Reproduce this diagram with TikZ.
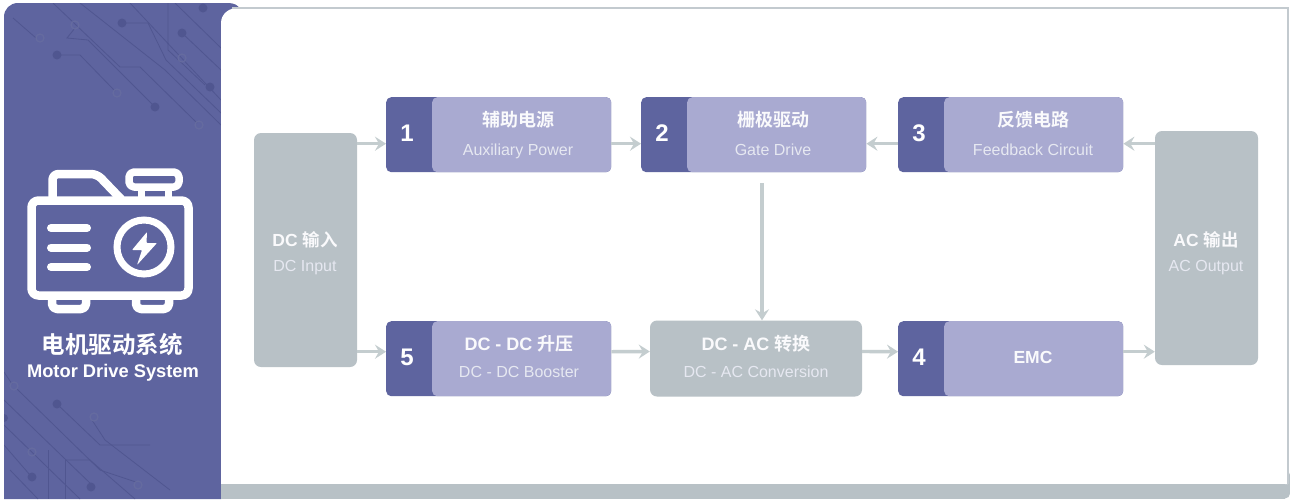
\documentclass[tikz,border=0pt]{standalone}
\usepackage{fontspec}
\setmainfont{Liberation Sans}
\newfontfamily\cjk{Noto Sans CJK SC}[BoldFont={Noto Sans CJK SC Bold}]
\usetikzlibrary{arrows.meta,calc}
\definecolor{deep}{HTML}{5E649F}
\definecolor{soft}{HTML}{A9AAD1}
\definecolor{slate}{HTML}{B8C1C6}
\definecolor{wire}{HTML}{C4CDCF}
\definecolor{trace}{HTML}{505690}
\definecolor{entext}{HTML}{E6E8F1}
\newcommand{\zh}[2]{{\fontsize{#1}{#1}\selectfont\bfseries\cjk #2}}
\newcommand{\lat}[1]{{\fontsize{16}{16}\selectfont #1}}
\newcommand{\stepblock}[8]{% name, x, y, number, text-centre offset, cn, en, en baseline offset
  \node[darkpart,anchor=north west] (#1) at (#2,#3) {};
  \node[softpart,anchor=north west] (#1s) at ($(#2,#3)+(46,0)$) {};
  \node[numtext] (#1n) at ($(#2,#3)+(21,36)$) {#4};
  \node[cntext] (#1c) at ($(#2,#3)+(#5,23)$) {\zh{18}{#6}};
  \node[entext,anchor=base] (#1e) at ($(#2,#3)+(#5,#8)$) {\lat{#7}};
}
\tikzset{
  x=1pt,y=-1pt,
  darkpart/.style={fill=deep,rounded corners=5pt,inner sep=0pt,minimum width=225pt,minimum height=75pt},
  softpart/.style={fill=soft,rounded corners=5pt,inner sep=0pt,minimum width=179pt,minimum height=75pt},
  greybox/.style={fill=slate,rounded corners=7pt,inner sep=0pt},
  numtext/.style={inner sep=0pt,text=white,font=\fontsize{24}{24}\selectfont\bfseries},
  cntext/.style={inner sep=0pt,text=white!94!soft},
  entext/.style={inner sep=0pt,text=entext},
  flow/.style={draw=wire,line width=3.4pt,-{Stealth[length=11pt,width=14pt,inset=4pt]}},
  icon/.style={draw=white,line width=8.5pt,line join=round,line cap=round},
  pcb/.style={draw=trace,line width=0.8pt},
  pcbdot/.style={fill=trace,draw=none},
  pcbring/.style={draw=trace!70!deep!90!white,line width=1.2pt},
}
\begin{document}
\begin{tikzpicture}
\useasboundingbox (0,0) rectangle (1290,499);
% left panel
\fill[deep] (4,499) -- (4,17) .. controls (4,9) and (10,3) .. (18,3) -- (228,3) .. controls (234,3) and (238,5) .. (240,9) -- (240,30) -- (221,30) -- (221,499) -- cycle;
% circuit traces
\begin{scope}
\clip (4,499) -- (4,17) .. controls (4,9) and (10,3) .. (18,3) -- (240,3) -- (240,12) -- (221,12) -- (221,499) -- cycle;
\draw[pcb] (13,18) -- (36,38);
\draw[pcb] (57,55) -- (80,55) -- (115,91);
\draw[pcb] (75,28) -- (67,38) -- (88,40) -- (155,107);
\draw[pcb] (53,3) -- (120,67) -- (140,67) -- (197,123);
\draw[pcb] (80,3) -- (165,70) -- (221,125);
\draw[pcb] (122,23) -- (148,23) -- (166,60) -- (221,113);
\draw[pcb] (130,3) -- (221,100);
\draw[pcb] (168,3) -- (168,50) -- (205,85);
\draw[pcb] (182,33) -- (221,70);
\draw[pcb] (175,3) -- (221,48);
\draw[pcb] (4,372) -- (12,384);
\draw[pcb] (17,389) -- (100,470) -- (136,482);
\draw[pcb] (4,400) -- (92,485);
\draw[pcb] (4,425) -- (80,499);
\draw[pcb] (57,404) -- (100,445) -- (150,445);
\draw[pcb] (92,420) -- (105,440) -- (170,490);
\draw[pcb] (4,445) -- (30,475);
\draw[pcb] (48,450) -- (48,499);
\draw[pcb] (65,460) -- (65,499);
\draw[pcb] (65,460) -- (90,460) -- (135,499);
\draw[pcb] (10,470) -- (38,499);
\foreach \p/\r in {{(57,55)}/4.5,{(122,23)}/4.5,{(155,107)}/4.5,{(182,33)}/4.5,{(210,87)}/4.5,{(203,8)}/4.5,{(57,404)}/4.5,{(32,477)}/4.5,{(91,487)}/4.5,{(4,418)}/4}
  \fill[pcbdot] \p circle[radius=\r];
\foreach \p in {{(40,38)},{(75,25)},{(117,93)},{(182,58)},{(199,125)},{(14,386)},{(94,417)},{(32,452)},{(138,485)}}
  \draw[pcbring] \p circle[radius=4];
\end{scope}
% white panel and base strip
\fill[slate,rounded corners=5pt] (1200,470) rectangle (1290,498.5);
\fill[white] (221,484) -- (221,23) .. controls (221,14) and (229,8) .. (237,8) -- (1288,8) -- (1288,484) -- cycle;
\draw[slate!85!white,line width=2.4pt] (232,8) -- (1288,8) -- (1288,484);
\fill[slate] (221,484) rectangle (1285,498.5);
% icon
\draw[icon,rounded corners=7pt] (31.5,200.5) rectangle (188.5,295.5);
\draw[icon,rounded corners=6pt] (52.5,198) -- (52.5,174) -- (97,174) -- (121,199);
\draw[icon,line width=7.5pt,rounded corners=5pt] (129,172) rectangle (179,187);
\draw[icon,line width=7pt,line cap=butt] (141,188) -- (141,198);
\draw[icon,line width=7pt,line cap=butt] (168,188) -- (168,198);
\draw[icon,line cap=butt,rounded corners=5pt] (52,296) -- (52,309) -- (86,309) -- (86,296);
\draw[icon,line cap=butt,rounded corners=5pt] (136,296) -- (136,309) -- (169,309) -- (169,296);
\draw[icon,line width=8pt] (51,228) -- (87,228);
\draw[icon,line width=8pt] (51,247.5) -- (87,247.5);
\draw[icon,line width=8pt] (51,267) -- (87,267);
\draw[draw=white,line width=7pt] (144,247) circle[radius=27];
\fill[white,rounded corners=0.8pt] (147,232) -- (132,250) -- (142,250) -- (137,265) -- (157,243) -- (146.5,243) -- cycle;
\node[inner sep=0pt,text=white] (titlecn) at (112,345) {\zh{23.5}{电机驱动系统}};
\node[inner sep=0pt,text=white,font=\fontsize{18.3}{18}\selectfont\bfseries] (titleen) at (113,372.5) {Motor Drive System};
% grey blocks
\node[greybox,minimum width=103pt,minimum height=234pt] (dcin) at (305.5,250) {};
\node[greybox,minimum width=103pt,minimum height=234pt] (acout) at (1206.5,248) {};
\node[cntext] (dcinc) at (305,240) {{\fontsize{17.5}{17}\selectfont\bfseries DC \zh{17.5}{输入}}};
\node[entext,anchor=base] (dcine) at (305,271) {\lat{DC Input}};
\node[cntext] (acoutc) at (1206,240) {{\fontsize{17.5}{17}\selectfont\bfseries AC \zh{17.5}{输出}}};
\node[entext,anchor=base] (acoute) at (1206,271) {\lat{AC Output}};
\node[greybox,minimum width=212pt,minimum height=76pt] (conv) at (756,358.5) {};
\node[cntext] (convc) at (756,344) {{\fontsize{18}{18}\selectfont\bfseries DC - AC \zh{18}{转换}}};
\node[entext,anchor=base] (conve) at (756,377) {\lat{DC - AC Conversion}};
% numbered blocks
\stepblock{bA}{386}{97}{1}{132}{辅助电源}{Auxiliary Power}{58}
\stepblock{bB}{641}{97}{2}{132}{栅极驱动}{Gate Drive}{58}
\stepblock{bC}{898}{97}{3}{135}{反馈电路}{Feedback Circuit}{58}
\stepblock{bE}{386}{321}{5}{133}{{\fontsize{18}{18}\selectfont\bfseries\rmfamily DC - DC }升压}{DC - DC Booster}{56}
\node[darkpart,anchor=north west] (bD) at (898,321) {};
\node[softpart,anchor=north west] (bDs) at (944,321) {};
\node[numtext] (bDn) at (919,357) {4};
\node[cntext,font=\fontsize{17.5}{17}\selectfont\bfseries] (bDc) at (1033,357) {EMC};
% connectors
\draw[flow] ([yshift=-9pt]dcin.east |- bA.west) -- ([yshift=-9pt]bA.west);
\draw[flow] ([yshift=-9pt]bA.east) -- ([yshift=-9pt]bB.west);
\draw[flow] ([yshift=-9pt]bC.west) -- ([yshift=-9pt]bB.east);
\draw[flow] ([yshift=-9pt]acout.west |- bC.east) -- ([yshift=-9pt]bC.east);
\draw[flow] ([xshift=6pt,yshift=-11pt]conv.north |- bB.south) -- ([xshift=6pt]conv.north);
\draw[flow] ([yshift=7pt]dcin.east |- bE.west) -- ([yshift=7pt]bE.west);
\draw[flow] ([yshift=7pt]bE.east) -- ([yshift=7pt]conv.west);
\draw[flow] ([yshift=7pt]conv.east) -- ([yshift=7pt]bD.west);
\draw[flow] ([yshift=7pt]bD.east) -- ([yshift=7pt]acout.west |- bD.east);
\end{tikzpicture}
\end{document}
